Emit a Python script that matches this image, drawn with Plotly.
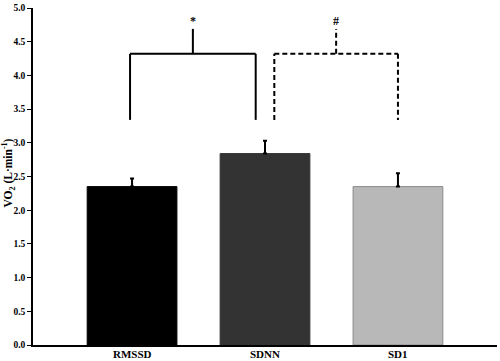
import plotly.graph_objects as go

categories = ["RMSSD", "SDNN", "SD1"]
values = [2.35, 2.84, 2.35]
errors = [0.12, 0.19, 0.20]
bar_colors = ["#000000", "#333333", "#b8b8b8"]
bar_lines = ["#000000", "#333333", "#8a8a8a"]
y_ticks = [0.0, 0.5, 1.0, 1.5, 2.0, 2.5, 3.0, 3.5, 4.0, 4.5, 5.0]

# comparisons: (left x, right x, symbol, dash)
brackets = [
    (-0.015, 0.93, "*", "solid"),
    (1.07, 2.0, "#", "5px,3px"),
]
bracket_top = 4.32
bracket_bottom = 3.34
tick_top = 4.69
symbol_y = 4.80

fig = go.Figure()
fig.add_trace(go.Bar(
    x=categories, y=values, width=0.675,
    marker=dict(color=bar_colors, line=dict(color=bar_lines, width=1)),
    error_y=dict(type="data", array=errors, arrayminus=[0]*len(errors),
                 symmetric=False, color="black", thickness=2, width=2),
    showlegend=False, hoverinfo="skip",
))

shapes = []
annotations = []
for x0, x1, sym, dash in brackets:
    xm = (x0 + x1) / 2
    for path in [[(x0, bracket_bottom), (x0, bracket_top)],
                 [(x0, bracket_top), (x1, bracket_top)],
                 [(x1, bracket_top), (x1, bracket_bottom)],
                 [(xm, bracket_top), (xm, tick_top)]]:
        shapes.append(dict(type="line", xref="x", yref="y",
                           x0=path[0][0], y0=path[0][1], x1=path[1][0], y1=path[1][1],
                           line=dict(color="black", width=2, dash=dash)))
    annotations.append(dict(x=xm, y=symbol_y, xref="x", yref="y", text="<b>%s</b>" % sym,
                            showarrow=False, font=dict(family="Liberation Serif", size=12, color="black")))

for c in categories:
    annotations.append(dict(x=c, y=0, xref="x", yref="y", yanchor="top", yshift=-1,
                            text="<b>%s</b>" % c, showarrow=False,
                            font=dict(family="Liberation Serif", size=11, color="black")))

annotations.append(dict(x=-0.053, y=0.51, xref="paper", yref="paper", textangle=-90,
                        xanchor="center", yanchor="middle",
                        text="<b>VO<sub>2</sub> (L·min<sup>-1</sup>)</b>", showarrow=False,
                        font=dict(family="Liberation Serif", size=11.5, color="black")))

fig.update_layout(
    width=500, height=361,
    margin=dict(l=33, r=3, t=5, b=16),
    paper_bgcolor="white", plot_bgcolor="white",
    shapes=shapes, annotations=annotations,
    font=dict(family="Liberation Serif", color="black"),
    xaxis=dict(range=[-0.745, 2.745], showline=True, linecolor="black", linewidth=1.5,
               ticks="", showgrid=False, zeroline=False, showticklabels=False),
    yaxis=dict(range=[0, 5.0], showline=True, linecolor="black", linewidth=1.5,
               ticks="outside", ticklen=4, tickwidth=1, tickcolor="black",
               tickvals=y_ticks, ticktext=["<b>%.1f</b>" % v for v in y_ticks],
               showgrid=False, zeroline=False,
               tickfont=dict(family="Liberation Serif", size=9.5, color="black")),
)

fig.write_html("out.html", config={"displayModeBar": False},
               post_script="document.body.style.margin='0';")
